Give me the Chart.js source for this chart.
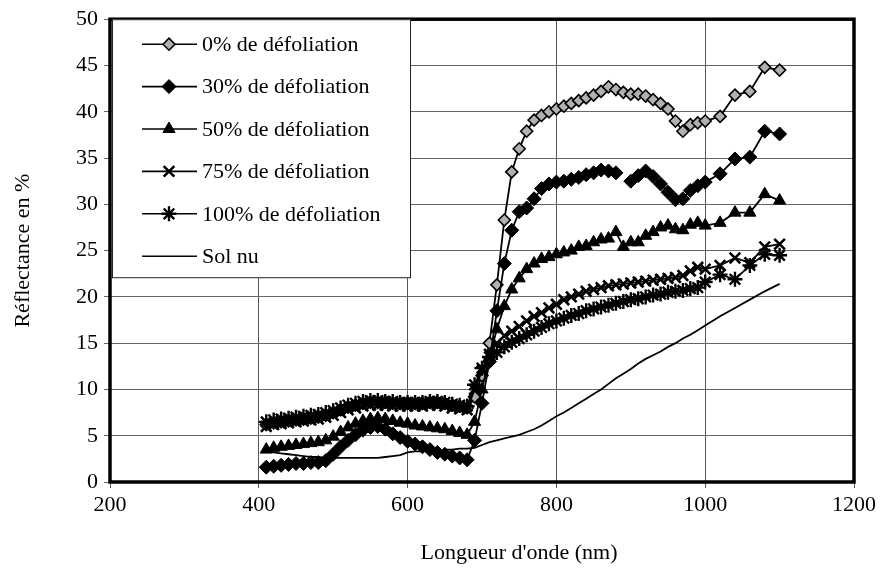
<!DOCTYPE html>
<html>
<head>
<meta charset="utf-8">
<script src="https://cdn.jsdelivr.net/npm/chart.js@4.4.1/dist/chart.umd.min.js"></script>
<style>
  html, body { margin: 0; padding: 0; background: #fff; }
  #wrap { width: 880px; height: 571px; position: relative; }
</style>
</head>
<body>
<div id="wrap"><canvas id="chart"></canvas></div>
<script>
// ── DATA ────────────────────────────────────────────────────
const wavelengths = [
  410, 420, 430, 440, 450, 460, 470, 480, 490, 500,
  510, 520, 530, 540, 550, 560, 570, 580, 590, 600,
  610, 620, 630, 640, 650, 660, 670, 680, 690, 700,
  710, 720, 730, 740, 750, 760, 770, 780, 790, 800,
  810, 820, 830, 840, 850, 860, 870, 880, 890, 900,
  910, 920, 930, 940, 950, 960, 970, 980, 990, 1000,
  1020, 1040, 1060, 1080, 1100
];

const def0 = [
  6.2, 6.4, 6.5, 6.6, 6.7, 6.8, 6.9, 7.0, 7.2, 7.5,
  7.8, 8.1, 8.3, 8.5, 8.6, 8.6, 8.6, 8.5, 8.5, 8.5,
  8.5, 8.5, 8.6, 8.6, 8.5, 8.3, 8.2, 8.0, 9.2, 11.5,
  15.0, 21.3, 28.3, 33.5, 36.0, 37.9, 39.1, 39.6, 40.0, 40.3,
  40.6, 40.9, 41.2, 41.5, 41.8, 42.2, 42.7, 42.4, 42.1, 41.9,
  41.9, 41.7, 41.3, 40.9, 40.3, 39.0, 37.9, 38.6, 38.8, 39.0,
  39.5, 41.8, 42.2, 44.8, 44.5
];

const def30 = [
  1.6, 1.7, 1.8, 1.9, 2.0, 2.0, 2.1, 2.1, 2.3, 3.0,
  3.8, 4.5, 5.1, 5.6, 5.9, 6.0, 5.7, 5.2, 4.8, 4.4,
  4.1, 3.8, 3.5, 3.2, 3.0, 2.8, 2.6, 2.4, 4.5, 8.5,
  13.0, 18.5, 23.6, 27.2, 29.2, 29.6, 30.6, 31.7, 32.2, 32.4,
  32.5, 32.7, 32.9, 33.2, 33.4, 33.7, 33.6, 33.4, null, 32.5,
  33.1, 33.6, 33.0, 32.2, 31.3, 30.5, 30.6, 31.5, 32.0, 32.4,
  33.3, 34.9, 35.1, 37.9, 37.6
];

const def50 = [
  3.5, 3.7, 3.8, 3.9, 4.0, 4.1, 4.2, 4.3, 4.5, 4.9,
  5.4, 5.9, 6.3, 6.6, 6.8, 6.9, 6.8, 6.6, 6.4, 6.3,
  6.1, 6.0, 5.9, 5.8, 5.7, 5.5, 5.3, 5.1, 6.5, 10.0,
  13.5, 16.5, 19.0, 20.8, 22.0, 23.0, 23.6, 24.1, 24.3, 24.6,
  24.8, 25.0, 25.4, 25.5, 25.9, 26.2, 26.3, 27.0, 25.4, 25.9,
  25.9, 26.6, 27.0, 27.5, 27.7, 27.3, 27.2, 27.8, 28.0, 27.7,
  28.0, 29.1, 29.1, 31.1, 30.4
];

const def75 = [
  6.0, 6.2, 6.3, 6.4, 6.5, 6.6, 6.7, 6.8, 7.0, 7.2,
  7.5, 7.8, 8.0, 8.2, 8.3, 8.3, 8.3, 8.2, 8.2, 8.2,
  8.2, 8.2, 8.3, 8.3, 8.2, 8.0, 7.9, 7.8, 10.0, 12.0,
  13.8, 15.0, 15.8, 16.3, 16.8, 17.4, 17.9, 18.3, 18.8, 19.2,
  19.7, 20.0, 20.3, 20.6, 20.8, 21.0, 21.2, 21.3, 21.4, 21.5,
  21.6, 21.7, 21.8, 21.9, 22.0, 22.1, 22.3, 22.8, 23.2, 23.0,
  23.4, 24.2, 23.7, 25.4, 25.7
];

const def100 = [
  6.5, 6.7, 6.8, 6.9, 7.0, 7.1, 7.2, 7.3, 7.5, 7.7,
  8.0, 8.3, 8.5, 8.7, 8.8, 8.8, 8.7, 8.7, 8.6, 8.6,
  8.6, 8.6, 8.7, 8.7, 8.6, 8.4, 8.3, 8.2, 10.5, 12.3,
  13.5, 14.0, 14.6, 15.1, 15.5, 15.9, 16.3, 16.7, 17.1, 17.4,
  17.7, 18.0, 18.2, 18.5, 18.7, 18.9, 19.1, 19.3, 19.5, 19.7,
  19.8, 20.0, 20.2, 20.3, 20.5, 20.6, 20.7, 20.9, 21.0, 21.6,
  22.4, 21.9, 23.4, 24.6, 24.5
];

const solNu = [
  3.3, 3.2, 3.1, 3.0, 2.9, 2.8, 2.7, 2.7, 2.6, 2.6,
  2.6, 2.6, 2.6, 2.6, 2.6, 2.6, 2.7, 2.8, 2.9, 3.2,
  3.3, 3.3, 3.4, 3.4, 3.5, 3.5, 3.6, 3.6, 3.7, 4.0,
  4.3, 4.5, 4.7, 4.9, 5.1, 5.4, 5.7, 6.1, 6.6, 7.1,
  7.5, 8.0, 8.5, 9.0, 9.5, 10.0, 10.6, 11.2, 11.7, 12.2,
  12.8, 13.3, 13.7, 14.1, 14.6, 15.0, 15.5, 15.9, 16.4, 16.9,
  17.9, 18.8, 19.7, 20.6, 21.4
];

const seriesLabels = [
  '0% de défoliation',
  '30% de défoliation',
  '50% de défoliation',
  '75% de défoliation',
  '100% de défoliation',
  'Sol nu'
];

const xTitle = "Longueur d'onde (nm)";
const yTitle = 'Réflectance en %';

// ── STYLE ───────────────────────────────────────────────────
const FONT = "'Times New Roman', 'Liberation Serif', serif";
const FONT_SIZE = 22;

const markerStyles = [
  { pointStyle: 'rectRot',  radius: 6,   fill: '#b0b0b0', stroke: '#000', bw: 1.6 },
  { pointStyle: 'rectRot',  radius: 7,   fill: '#000',    stroke: '#000', bw: 1 },
  { pointStyle: 'triangle', radius: 7,   fill: '#000',    stroke: '#000', bw: 1 },
  { pointStyle: 'crossRot', radius: 7.5, fill: '#000',    stroke: '#000', bw: 2.6 },
  { pointStyle: 'star',     radius: 7.5, fill: '#000',    stroke: '#000', bw: 2.4 },
  { pointStyle: false,      radius: 0,   fill: '#000',    stroke: '#000', bw: 1 }
];

const toPoints = vals => wavelengths.map((w, i) => ({ x: w, y: vals[i] }));

const allSeries = [def0, def30, def50, def75, def100, solNu];

const datasets = allSeries.map((vals, i) => {
  const m = markerStyles[i];
  return {
    label: seriesLabels[i],
    data: toPoints(vals),
    borderColor: '#000',
    borderWidth: 1.8,
    pointStyle: m.pointStyle,
    pointRadius: m.radius,
    pointBackgroundColor: m.fill,
    pointBorderColor: m.stroke,
    pointBorderWidth: m.bw,
    spanGaps: false,
    tension: 0,
    order: 6 - i   // later series drawn on top, like the original
  };
});

// ── FRAME / LEGEND / X TITLE ────────────────────────────────
const decorPlugin = {
  id: 'decor',
  afterDraw(chart) {
    const ctx = chart.ctx;
    const a = chart.chartArea;
    ctx.save();

    // thick frame round the plot
    ctx.strokeStyle = '#000';
    ctx.lineWidth = 3.5;
    ctx.strokeRect(a.left, a.top, a.right - a.left, a.bottom - a.top);

    // legend box
    const lx = a.left + 2, ly = a.top, lw = 299, lh = 259;
    ctx.fillStyle = '#fff';
    ctx.fillRect(lx, ly, lw, lh);
    ctx.lineWidth = 1;
    ctx.strokeStyle = '#222';
    ctx.strokeRect(lx + 0.5, ly + 0.5, lw - 1, lh - 1);

    ctx.font = FONT_SIZE + 'px ' + FONT;
    ctx.textBaseline = 'middle';
    ctx.textAlign = 'left';
    seriesLabels.forEach((lab, i) => {
      const y = ly + 25 + i * 42.4;
      ctx.strokeStyle = '#000';
      ctx.lineWidth = 1.6;
      ctx.beginPath();
      ctx.moveTo(lx + 30, y);
      ctx.lineTo(lx + 85, y);
      ctx.stroke();
      const m = markerStyles[i];
      if (m.pointStyle) {
        ctx.fillStyle = m.fill;
        ctx.strokeStyle = m.stroke;
        ctx.lineWidth = m.bw;
        Chart.helpers.drawPoint(ctx, {
          pointStyle: m.pointStyle, radius: m.radius, rotation: 0, borderWidth: m.bw
        }, lx + 57, y);
      }
      ctx.fillStyle = '#000';
      ctx.fillText(lab, lx + 90, y + 1);
    });

    // x axis title
    ctx.textAlign = 'center';
    ctx.fillText(xTitle, 519, 553);
    ctx.restore();
  }
};

// ── CHART ───────────────────────────────────────────────────
new Chart(document.getElementById('chart'), {
  type: 'line',
  data: { datasets },
  options: {
    responsive: true,
    maintainAspectRatio: false,
    animation: false,
    layout: { padding: { top: 18, right: 25, left: 0, bottom: 0 } },
    plugins: {
      legend: { display: false },
      tooltip: { enabled: false }
    },
    scales: {
      x: {
        type: 'linear',
        min: 200,
        max: 1200,
        afterFit: s => { s.height = 89; },
        ticks: {
          stepSize: 200,
          autoSkip: false,
          maxRotation: 0,
          padding: 4,
          color: '#000',
          font: { family: FONT, size: FONT_SIZE },
          callback: v => String(v)
        },
        grid: { color: '#555', lineWidth: 1, tickLength: 6 },
        border: { display: false }
      },
      y: {
        min: 0,
        max: 50,
        afterFit: s => { s.width = 110; },
        ticks: {
          stepSize: 5,
          padding: 6,
          color: '#000',
          font: { family: FONT, size: FONT_SIZE },
          callback: v => String(v)
        },
        grid: { color: '#666', lineWidth: 1, tickLength: 6 },
        border: { display: false },
        title: {
          display: true,
          text: yTitle,
          color: '#000',
          padding: { top: 10, bottom: 0 },
          font: { family: FONT, size: FONT_SIZE }
        }
      }
    }
  },
  plugins: [decorPlugin]
});
</script>
</body>
</html>
